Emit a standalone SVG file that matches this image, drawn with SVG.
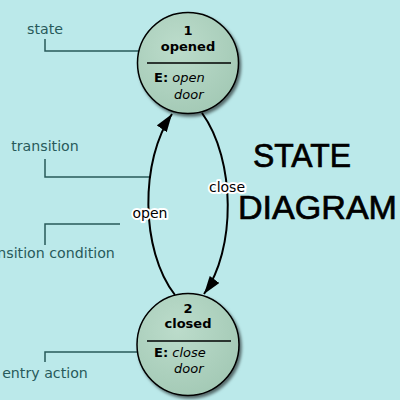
<svg xmlns="http://www.w3.org/2000/svg" width="400" height="400" viewBox="0 0 400 400">
<defs>
<radialGradient id="g" cx="0.4" cy="0.35" r="0.7">
<stop offset="0" stop-color="#bcdccb"/>
<stop offset="1" stop-color="#a3c9b5"/>
</radialGradient>
<filter id="sh" x="-20%" y="-20%" width="150%" height="150%">
<feDropShadow dx="2" dy="2.5" stdDeviation="1.8" flood-color="#000" flood-opacity="0.55"/>
</filter>
<marker id="ah" markerUnits="userSpaceOnUse" markerWidth="20" markerHeight="14" refX="18" refY="6" orient="auto">
<path d="M0,0 L18,6 L0,12 Z" fill="#000"/>
</marker>
<style>
.st{fill:url(#g);stroke:#000;stroke-width:1.5;filter:url(#sh)}
.t{font-family:"DejaVu Sans",sans-serif;font-size:13px;fill:#000}
.b{font-weight:bold}
.i{font-style:italic}
.sep{stroke:#000;stroke-width:1.5}
.lbl{font-family:"DejaVu Sans",sans-serif;font-size:14.2px;fill:#285a5a;text-anchor:middle}
.ld{fill:none;stroke:#285a5a;stroke-width:1.5}
.e{fill:none;stroke:#000;stroke-width:2}
.el{font-family:"DejaVu Sans",sans-serif;font-size:14px;fill:#000;text-anchor:middle;stroke:#fff;stroke-width:4;stroke-linejoin:round;paint-order:stroke}
.big{font-family:"Liberation Sans",Arial,sans-serif;font-size:33px;fill:#000;stroke:#000;stroke-width:0.7}
</style>
</defs>
<rect width="400" height="400" fill="#bbe9ea"/>
<g id="annotations">
<text class="lbl" x="45" y="34">state</text>
<path class="ld" d="M45,39 V51 H140"/>
<text class="lbl" x="45" y="151">transition</text>
<path class="ld" d="M45,159 V177 H151"/>
<path class="ld" d="M45,245 V224 H120"/>
<text class="lbl" x="46" y="258">transition condition</text>
<path class="ld" d="M45,362 V352 H139"/>
<text class="lbl" x="45" y="378">entry action</text>
</g>
<g id="connectors">
<path class="e" d="M175,295 C140,250 140,160 172,114" marker-end="url(#ah)"/>
<path class="e" d="M202,113 C236,160 236,250 204,294" marker-end="url(#ah)"/>
<text class="el" x="150" y="218">open</text>
<text class="el" x="227" y="192">close</text>
</g>
<g id="state1">
<circle class="st" cx="188" cy="63" r="50.5"/>
<text class="t b" x="188" y="35" text-anchor="middle">1</text>
<text class="t b" x="188" y="51" text-anchor="middle">opened</text>
<line class="sep" x1="147" y1="63" x2="231" y2="63"/>
<text class="t" x="154" y="82"><tspan class="b">E:</tspan> <tspan class="i">open</tspan></text>
<text class="t i" x="174" y="99">door</text>
</g>
<g id="state2">
<circle class="st" cx="188" cy="344.5" r="51"/>
<text class="t b" x="188" y="313" text-anchor="middle">2</text>
<text class="t b" x="188" y="328" text-anchor="middle">closed</text>
<line class="sep" x1="147" y1="341" x2="231" y2="341"/>
<text class="t" x="154" y="357"><tspan class="b">E:</tspan> <tspan class="i">close</tspan></text>
<text class="t i" x="174" y="373">door</text>
</g>
<g id="title">
<text class="big" x="253" y="167" textLength="98" lengthAdjust="spacingAndGlyphs">STATE</text>
<text class="big" x="238" y="219" textLength="159" lengthAdjust="spacingAndGlyphs">DIAGRAM</text>
</g>
</svg>
